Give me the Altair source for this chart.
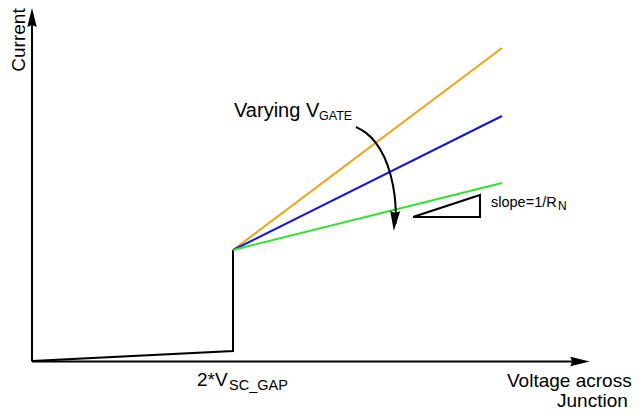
import altair as alt
import pandas as pd

FONT = "Liberation Sans"

# ---- schematic coordinates (drawing units) ----
# axes
axis_x_line_x = [32, 578]
axis_x_line_y = [361.5, 361.5]
axis_y_line_x = [32, 32]
axis_y_line_y = [361.5, 20]

# black I-V branch: sub-gap leakage, then jump at 2*V_SC_GAP
iv_x = [32, 233, 233]
iv_y = [361, 351, 250]

# post-gap linear branches for varying V_GATE
branch_names = ["high", "mid", "low"]
branch_x0 = [233, 233, 233]
branch_y0 = [250, 250, 250]
branch_x1 = [502, 502, 502]
branch_y1 = [48, 116, 183]
branch_colors = ["#F2A20E", "#1414F0", "#2DE42D"]

# curved "varying" arrow
curve_x = [356, 366, 376, 385, 391, 395, 396, 395.5]
curve_y = [127, 132, 142, 157, 175, 195, 213, 224]

# slope triangle
tri_x = [413, 480, 480, 413]
tri_y = [217, 195, 217, 217]

# arrowheads: centre x, centre y, rotation, size (px^2)
head_x = [32, 580, 394.5]
head_y = [17.5, 361.5, 221]
head_angle = [0, 90, 184]
head_size = [361, 380, 400]

# labels
lab_text = ["Current", "Varying V", "GATE", "slope=1/R", "N", "2*V", "SC_GAP",
            "Voltage across", "Junction"]
lab_x = [25, 234, 319, 491, 558, 197, 229, 507, 557]
lab_y = [40, 117, 120, 207, 210, 386, 390, 387, 407]
lab_size = [19, 20, 12.5, 14.5, 12, 19, 14.5, 19, 19]
lab_angle = [270, 0, 0, 0, 0, 0, 0, 0, 0]
lab_align = ["center", "left", "left", "left", "left", "left", "left", "left", "left"]

# ---- build chart ----
W, H = 626, 402
xs = alt.Scale(domain=[8, 8 + W], nice=False, zero=False)
ys = alt.Scale(domain=[8, 8 + H], nice=False, zero=False, reverse=True)
X = lambda f: alt.X(f, type="quantitative", scale=xs, axis=None)
Y = lambda f: alt.Y(f, type="quantitative", scale=ys, axis=None)


def polyline(xv, yv, color, width=2):
    df = pd.DataFrame({"x": xv, "y": yv, "i": list(range(len(xv)))})
    return alt.Chart(df).mark_line(color=color, strokeWidth=width, strokeJoin="miter").encode(
        x=X("x"), y=Y("y"), order="i:Q")


layers = []
layers.append(polyline(axis_x_line_x, axis_x_line_y, "black", 2))
layers.append(polyline(axis_y_line_x, axis_y_line_y, "black", 2))
layers.append(polyline(iv_x, iv_y, "black", 2))
for n, x0, y0, x1, y1, c in zip(branch_names, branch_x0, branch_y0, branch_x1, branch_y1, branch_colors):
    layers.append(polyline([x0, x1], [y0, y1], c, 2))
layers.append(polyline(tri_x, tri_y, "black", 2))

curve_df = pd.DataFrame({"x": curve_x, "y": curve_y, "i": list(range(len(curve_x)))})
layers.append(alt.Chart(curve_df).mark_line(color="black", strokeWidth=2, interpolate="basis").encode(
    x=X("x"), y=Y("y"), order="i:Q"))

head_df = pd.DataFrame({"x": head_x, "y": head_y, "a": head_angle, "s": head_size})
layers.append(alt.Chart(head_df).mark_point(
    shape="M0,-1L-0.5,1L0,0.8L0.5,1Z", filled=True, color="black", opacity=1, strokeWidth=0
).encode(x=X("x"), y=Y("y"), angle=alt.Angle("a:Q", scale=None), size=alt.Size("s:Q", scale=None)))

for t, x, y, s, a, al in zip(lab_text, lab_x, lab_y, lab_size, lab_angle, lab_align):
    df = pd.DataFrame({"x": [x], "y": [y], "t": [t]})
    layers.append(alt.Chart(df).mark_text(
        font=FONT, fontSize=s, angle=a, align=al, baseline="alphabetic", color="black"
    ).encode(x=X("x"), y=Y("y"), text="t:N"))

chart = alt.layer(*layers).properties(
    width=W, height=H, padding=0, autosize=alt.AutoSizeParams(type="none")
).configure_view(stroke=None)

chart.save("out.html", embed_options={"renderer": "svg", "actions": False})
